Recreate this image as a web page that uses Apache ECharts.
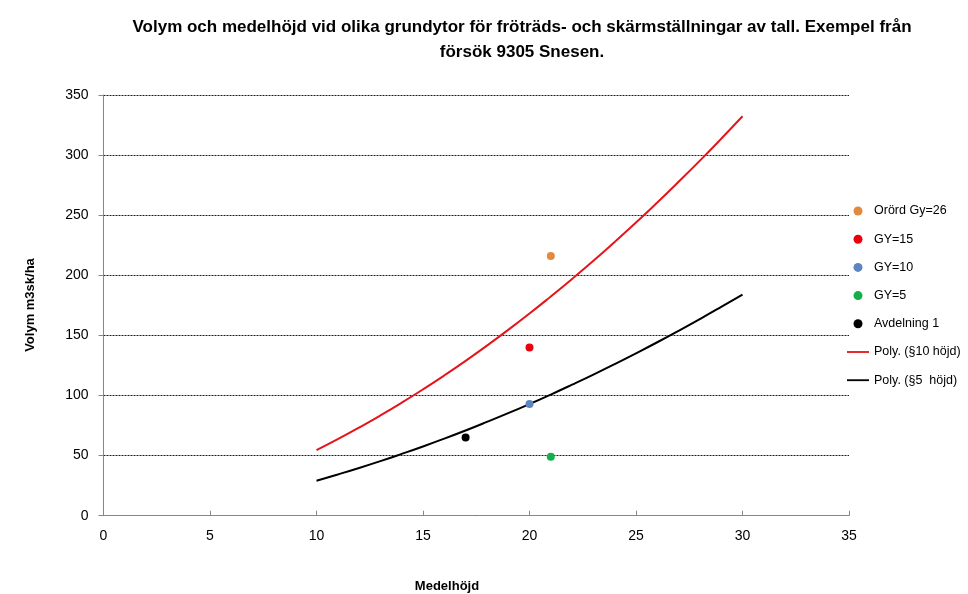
<!DOCTYPE html>
<html>
<head>
<meta charset="utf-8">
<script src="https://cdn.jsdelivr.net/npm/echarts@6/dist/echarts.min.js"></script>
<style>
html,body{margin:0;padding:0;background:#fff;}
#main{width:968px;height:594px;}
</style>
</head>
<body>
<div id="main"></div>
<script>
// ---- data ----
var titleText = 'Volym och medelhöjd vid olika grundytor för fröträds- och skärmställningar av tall. Exempel från\nförsök 9305 Snesen.';
var xTicks = [0, 5, 10, 15, 20, 25, 30, 35];
var yTicks = [0, 50, 100, 150, 200, 250, 300, 350];

var orordGy26 = [[21, 216]];
var gy15 = [[20, 140]];
var gy10 = [[20, 93]];
var gy5 = [[21, 49]];
var avdelning1 = [[17, 65]];

var curveX = [10, 11, 12, 13, 14, 15, 16, 17, 18, 19, 20, 21, 22, 23, 24, 25, 26, 27, 28, 29, 30];
var poly10 = [54.6, 63.7, 73.3, 83.4, 94.0, 105.1, 116.7, 128.8, 141.5, 154.6, 168.2, 182.4, 197.0, 212.1, 227.8, 243.9, 260.6, 277.8, 295.4, 313.6, 332.3];
var poly5 = [29.1, 34.3, 39.7, 45.4, 51.4, 57.6, 64.1, 70.9, 78.0, 85.3, 92.9, 100.8, 109.0, 117.4, 126.1, 135.1, 144.3, 153.8, 163.6, 173.7, 184.0];

var legendNames = ['Orörd Gy=26', 'GY=15', 'GY=10', 'GY=5', 'Avdelning 1', 'Poly. (§10 höjd)', 'Poly. (§5  höjd)'];

function zip(xs, ys) { return xs.map(function (x, i) { return [x, ys[i]]; }); }

var FONT = '"Liberation Sans", sans-serif';
var LINE_ICON = 'path://M0,0L24,0L24,2L0,2Z';

var chart = echarts.init(document.getElementById('main'), null, {renderer: 'canvas'});
var option = {
  animation: false,
  backgroundColor: '#ffffff',
  textStyle: {fontFamily: FONT},
  title: {
    text: titleText,
    left: 517,
    top: 10,
    textAlign: 'center',
    textStyle: {fontFamily: FONT, fontSize: 17, fontWeight: 'bold', color: '#000', lineHeight: 25}
  },
  grid: {left: 103.5, right: 119, top: 95, bottom: 78.3, containLabel: false},
  xAxis: {
    type: 'value',
    min: 0, max: 35, interval: 5,
    axisLine: {show: true, lineStyle: {color: '#878787', width: 1}},
    axisTick: {show: true, inside: true, length: 5, lineStyle: {color: '#878787'}},
    axisLabel: {fontFamily: FONT, fontSize: 14, color: '#000', margin: 13},
    splitLine: {show: false}
  },
  yAxis: {
    type: 'value',
    min: 0, max: 350, interval: 50,
    axisLine: {show: true, onZero: false, lineStyle: {color: '#878787', width: 1}},
    axisTick: {show: true, inside: false, length: 5, lineStyle: {color: '#878787'}},
    axisLabel: {fontFamily: FONT, fontSize: 14, color: '#000', margin: 15},
    splitLine: {show: true, lineStyle: {color: '#1a1a1a', width: 1, type: [2, 1]}}
  },
  legend: {
    orient: 'vertical',
    left: 842,
    top: 199,
    padding: 5,
    itemWidth: 22,
    itemHeight: 9,
    itemGap: 14.2,
    textStyle: {fontFamily: FONT, fontSize: 12.5, color: '#000', lineHeight: 14},
    data: legendNames.map(function (n, i) {
      return i >= 5 ? {name: n, icon: LINE_ICON} : {name: n, icon: 'circle'};
    })
  },
  graphic: [
    {
      type: 'text', x: 30, y: 305, rotation: Math.PI / 2,
      style: {text: 'Volym m3sk/ha', font: 'bold 13px ' + FONT, fill: '#000', align: 'center', verticalAlign: 'middle'}
    },
    {
      type: 'text', x: 447, y: 586,
      style: {text: 'Medelhöjd', font: 'bold 13px ' + FONT, fill: '#000', align: 'center', verticalAlign: 'middle'}
    }
  ],
  series: [
    {name: legendNames[0], type: 'scatter', data: orordGy26, symbol: 'circle', symbolSize: 8, itemStyle: {color: '#E2883F', opacity: 1}, z: 3},
    {name: legendNames[1], type: 'scatter', data: gy15, symbol: 'circle', symbolSize: 8, itemStyle: {color: '#E8000E', opacity: 1}, z: 3},
    {name: legendNames[2], type: 'scatter', data: gy10, symbol: 'circle', symbolSize: 8, itemStyle: {color: '#5B86C1', opacity: 1}, z: 3},
    {name: legendNames[3], type: 'scatter', data: gy5, symbol: 'circle', symbolSize: 8, itemStyle: {color: '#12B04A', opacity: 1}, z: 3},
    {name: legendNames[4], type: 'scatter', data: avdelning1, symbol: 'circle', symbolSize: 8, itemStyle: {color: '#000000', opacity: 1}, z: 3},
    {name: legendNames[5], type: 'line', data: zip(curveX, poly10), smooth: true, symbol: 'none', showSymbol: false,
      lineStyle: {color: '#E4161B', width: 2}, itemStyle: {color: '#E4161B'}, z: 2},
    {name: legendNames[6], type: 'line', data: zip(curveX, poly5), smooth: true, symbol: 'none', showSymbol: false,
      lineStyle: {color: '#000000', width: 2}, itemStyle: {color: '#000000'}, z: 2}
  ]
};
chart.setOption(option);
</script>
</body>
</html>
